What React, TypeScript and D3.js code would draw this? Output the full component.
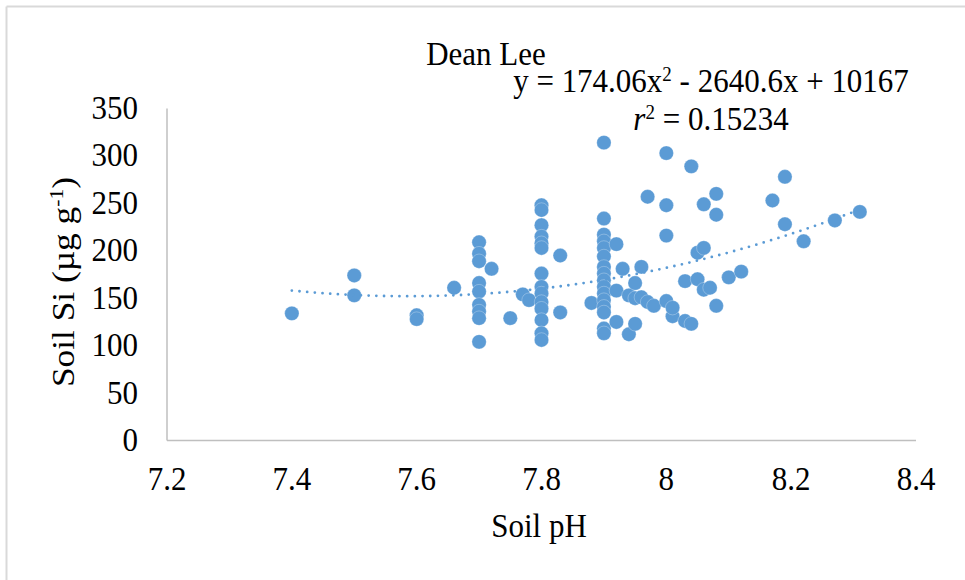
import React from "react";
import * as d3 from "d3";

const soilPH: number[] = [
  7.4,
  7.5, 7.5,
  7.6, 7.6,
  7.66,
  7.7, 7.7, 7.7, 7.7, 7.7, 7.7, 7.7, 7.7, 7.7,
  7.72, 7.75, 7.77, 7.78,
  7.8, 7.8, 7.8, 7.8, 7.8, 7.8, 7.8, 7.8, 7.8, 7.8, 7.8, 7.8, 7.8, 7.8,
  7.83, 7.83, 7.88,
  7.9, 7.9, 7.9, 7.9, 7.9, 7.9, 7.9, 7.9, 7.9, 7.9, 7.9, 7.9, 7.9, 7.9, 7.9, 7.9,
  7.92, 7.92, 7.92, 7.93, 7.94, 7.94, 7.95, 7.95, 7.95, 7.96, 7.96, 7.97, 7.97, 7.98,
  8.0, 8.0, 8.0, 8.0, 8.01, 8.01, 8.03, 8.03, 8.04, 8.04, 8.05, 8.05,
  8.06, 8.06, 8.06, 8.07, 8.08, 8.08, 8.08, 8.1, 8.12,
  8.17, 8.19, 8.19, 8.22, 8.27, 8.31,
];

const soilSi: number[] = [
  134,
  174, 153,
  132, 128,
  161,
  209, 197, 189, 166, 157, 143, 136, 129, 104,
  181, 129, 154, 148,
  248, 243, 227, 215, 208, 203, 176, 162, 155, 146, 139, 127, 113, 106,
  195, 135, 145,
  314, 234, 217, 210, 203, 194, 183, 176, 169, 162, 155, 148, 141, 135, 118, 113,
  207, 158, 125, 181, 112, 153, 123, 166, 150, 183, 151, 146, 257, 142,
  303, 248, 216, 147, 131, 140, 126, 168, 123, 289, 198, 170,
  203, 249, 159, 161, 260, 238, 142, 172, 178,
  253, 278, 228, 210, 232, 241,
];

const xTicks: number[] = [7.2, 7.4, 7.6, 7.8, 8.0, 8.2, 8.4];
const yTicks: number[] = [0, 50, 100, 150, 200, 250, 300, 350];

// Trendline coefficients (from the chart's equation)
const trendCoef: number[] = [174.06, -2640.6, 10167];
const trendRange: number[] = [7.4, 8.31];

const chartTitle = "Dean Lee";
const xTitle = "Soil pH";

const BLUE = "#5B9BD5";
const FONT = "'Liberation Serif', 'Times New Roman', serif";
const SY = 1.1;

function T({ x, y, anchor = "middle", size, children }: any) {
  return (
    <text
      transform={`translate(${x},${y}) scale(1,${SY})`}
      textAnchor={anchor}
      fontSize={size}
      fill="#000"
    >
      {children}
    </text>
  );
}

export default function App() {
  const width = 965;
  const height = 580;
  const x = d3.scaleLinear().domain([7.2, 8.4]).range([167, 916]);
  const y = d3.scaleLinear().domain([0, 350]).range([440.5, 108.5]);

  const trendXs = d3.range(0, 101).map(
    (i) => trendRange[0] + ((trendRange[1] - trendRange[0]) * i) / 100
  );
  const trendFn = (v: number) => trendCoef[0] * v * v + trendCoef[1] * v + trendCoef[2];
  const line = d3
    .line<number>()
    .x((d) => x(d))
    .y((d) => y(trendFn(d)))
    .curve(d3.curveLinear);

  const fs = 31;

  return (
    <svg
      width={width}
      height={height}
      style={{ position: "absolute", left: 0, top: 0, background: "#fff" }}
      fontFamily={FONT}
    >
      <rect x={0} y={0} width={width} height={height} fill="#fff" />
      {/* outer frame (top and left visible) */}
      <line x1={6.5} y1={6.5} x2={width} y2={6.5} stroke="#D9D9D9" strokeWidth={2} />
      <line x1={6.5} y1={6.5} x2={6.5} y2={height} stroke="#D9D9D9" strokeWidth={2} />

      {/* axes */}
      <line x1={x(7.2)} y1={y(0)} x2={x(8.4)} y2={y(0)} stroke="#BFBFBF" strokeWidth={1.5} />
      <line x1={x(7.2)} y1={y(0)} x2={x(7.2)} y2={y(350)} stroke="#BFBFBF" strokeWidth={1.5} />

      {/* y tick labels */}
      {yTicks.map((t) => (
        <T key={"y" + t} x={138} y={y(t) + 10.5} anchor="end" size={fs}>
          {t}
        </T>
      ))}
      {/* x tick labels */}
      {xTicks.map((t) => (
        <T key={"x" + t} x={x(t)} y={490} size={fs}>
          {d3.format("~g")(t)}
        </T>
      ))}

      {/* points */}
      {soilPH.map((p, i) => (
        <circle
          key={"p" + i}
          cx={x(p)}
          cy={y(soilSi[i])}
          r={7.2}
          fill={BLUE}
          stroke="#ffffff"
          strokeOpacity={0.35}
          strokeWidth={0.8}
        />
      ))}

      {/* trendline */}
      <path
        d={line(trendXs) || ""}
        fill="none"
        stroke={BLUE}
        strokeWidth={2.8}
        strokeLinecap="round"
        strokeDasharray="0 7.7"
      />

      {/* title */}
      <T x={486} y={65} size={fs}>
        {chartTitle}
      </T>
      {/* equation */}
      <T x={711} y={92} size={fs}>
        <tspan>y = 174.06x</tspan>
        <tspan fontSize={19} dy={-10}>2</tspan>
        <tspan dy={10}> - 2640.6x + 10167</tspan>
      </T>
      <T x={711} y={130} size={fs}>
        <tspan fontStyle="italic">r</tspan>
        <tspan fontSize={19} dy={-10}>2</tspan>
        <tspan dy={10}> = 0.15234</tspan>
      </T>

      {/* axis titles */}
      <T x={539} y={537} size={fs}>
        {xTitle}
      </T>
      <text
        transform={`translate(74, 282) rotate(-90) scale(${SY + 0.04},1)`}
        textAnchor="middle"
        fontSize={fs}
        fill="#000"
      >
        <tspan>Soil Si (µg g</tspan>
        <tspan fontSize={19} dy={-11}>-1</tspan>
        <tspan dy={11}>)</tspan>
      </text>
    </svg>
  );
}
